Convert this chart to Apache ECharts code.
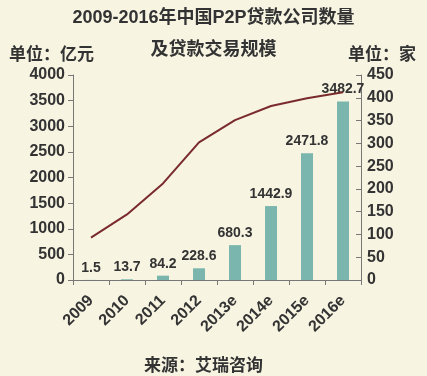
<!DOCTYPE html>
<html>
<head>
<meta charset="utf-8">
<script src="https://cdn.jsdelivr.net/npm/echarts@6/dist/echarts.min.js"></script>
<style>
  html, body { margin: 0; padding: 0; background: #f7f4e2; }
  #chart { width: 427px; height: 376px; }
</style>
</head>
<body>
<div id="chart"></div>
<script>
var years = ["2009", "2010", "2011", "2012", "2013e", "2014e", "2015e", "2016e"];
var volume = [1.5, 13.7, 84.2, 228.6, 680.3, 1442.9, 2471.8, 3482.7];
var companies = [93, 144, 212, 302, 351, 382, 399, 412];

var chart = echarts.init(document.getElementById("chart"));
var font = "'Liberation Sans', Arial, 'Noto Sans CJK SC', sans-serif";
var option = {
  backgroundColor: "#f7f4e2",
  textStyle: { fontFamily: font },
  animation: false,
  title: [
    {
      text: "2009-2016年中国P2P贷款公司数量",
      left: "center",
      top: 4,
      textStyle: { fontSize: 18, fontWeight: "bold", color: "#333", fontFamily: font }
    },
    {
      text: "及贷款交易规模",
      left: "center",
      top: 36,
      textStyle: { fontSize: 18, fontWeight: "bold", color: "#333", fontFamily: font }
    },
    {
      text: "单位：亿元",
      left: 4,
      top: 42,
      textStyle: { fontSize: 17, fontWeight: "bold", color: "#333", fontFamily: font }
    },
    {
      text: "单位：家",
      right: 6,
      top: 42,
      textStyle: { fontSize: 17, fontWeight: "bold", color: "#333", fontFamily: font }
    },
    {
      text: "来源：艾瑞咨询",
      left: 139,
      top: 353,
      textStyle: { fontSize: 17, fontWeight: "bold", color: "#333", fontFamily: font }
    }
  ],
  grid: { left: 73, right: 66, top: 75, bottom: 96 },
  xAxis: {
    type: "category",
    data: years,
    axisLine: { lineStyle: { color: "#777" } },
    axisTick: { show: true, length: 5, lineStyle: { color: "#777" } },
    axisLabel: {
      rotate: 45,
      interval: 0,
      fontSize: 16,
      fontWeight: "bold",
      color: "#333",
      margin: 18
    }
  },
  yAxis: [
    {
      type: "value",
      min: 0,
      max: 4000,
      interval: 500,
      splitLine: { show: false },
      axisLine: { show: true, lineStyle: { color: "#777" } },
      axisTick: { show: true, length: 5, lineStyle: { color: "#777" } },
      axisLabel: {
        fontSize: 16,
        fontWeight: "bold",
        color: "#333",
        margin: 8,
        formatter: function (v) { return String(v); }
      }
    },
    {
      type: "value",
      min: 0,
      max: 450,
      interval: 50,
      splitLine: { show: false },
      axisLine: { show: true, lineStyle: { color: "#777" } },
      axisTick: { show: true, inside: true, length: 5, lineStyle: { color: "#777" } },
      axisLabel: { fontSize: 16, fontWeight: "bold", color: "#333", margin: 6 }
    }
  ],
  series: [
    {
      type: "bar",
      data: volume,
      barWidth: 12,
      itemStyle: { color: "#7ab5ae" },
      label: {
        show: true,
        position: "top",
        distance: 5,
        fontSize: 14,
        fontWeight: "bold",
        color: "#333"
      }
    },
    {
      type: "line",
      yAxisIndex: 1,
      data: companies,
      symbol: "none",
      lineStyle: { color: "#7a2a2c", width: 2 }
    }
  ]
};
chart.setOption(option);
</script>
</body>
</html>
